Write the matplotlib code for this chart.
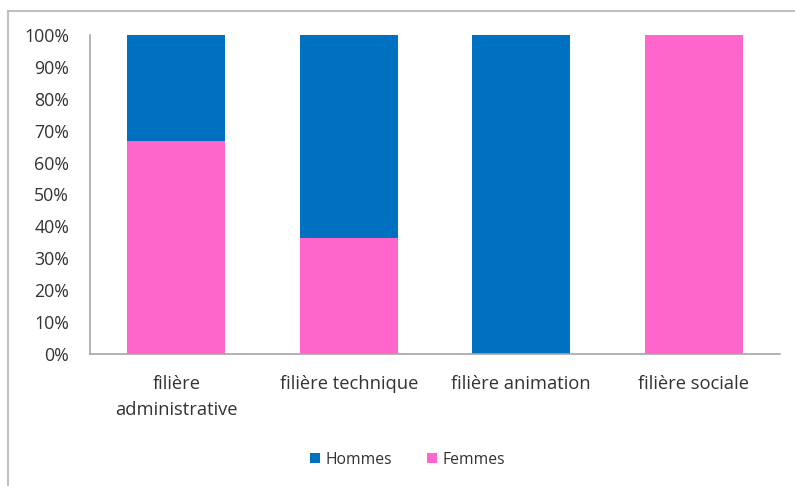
import matplotlib
matplotlib.use("Agg")
import matplotlib.pyplot as plt
from matplotlib.patches import Rectangle
from matplotlib.ticker import FuncFormatter, MultipleLocator

plt.rcParams["font.family"] = ["Open Sans", "DejaVu Sans"]

categories = ["filière\nadministrative", "filière technique", "filière animation", "filière sociale"]
femmes = [66.7, 36.4, 0.0, 100.0]
hommes = [33.3, 63.6, 100.0, 0.0]

blue = "#0070C0"
pink = "#FF66CC"
grey = "#A6A6A6"
text_color = "#333333"

fig = plt.figure(figsize=(7.95, 4.86), dpi=100)
ax = fig.add_axes([0.1132, 0.2716, 0.8679, 0.6564])

x = range(len(categories))
ax.bar(x, femmes, width=0.57, color=pink, label="Femmes")
ax.bar(x, hommes, width=0.57, bottom=femmes, color=blue, label="Hommes")

ax.set_xlim(-0.5, len(categories) - 0.5)
ax.set_ylim(0, 100)
ax.yaxis.set_major_locator(MultipleLocator(10))
ax.yaxis.set_major_formatter(FuncFormatter(lambda v, p: f"{v:.0f}%"))
ax.set_xticks(list(x))
ax.set_xticklabels(categories, fontsize=13.2, color=text_color, linespacing=1.55)
ax.tick_params(axis="y", length=0, pad=15, labelsize=12.8, labelcolor=text_color)
ax.tick_params(axis="x", length=0, pad=15)

for side in ("top", "right"):
    ax.spines[side].set_visible(False)
for side in ("left", "bottom"):
    ax.spines[side].set_color(grey)
    ax.spines[side].set_linewidth(1.2)

handles, labels = ax.get_legend_handles_labels()
leg = fig.legend(handles[::-1], labels[::-1], loc="center", bbox_to_anchor=(0.513, 0.054),
                 ncol=2, frameon=False, fontsize=11.3, handlelength=0.6, handleheight=0.6,
                 handletextpad=0.4, columnspacing=2.2, labelcolor=text_color)

# chart-area frame
fig.patches.append(Rectangle((0.0095, -0.1), 1.2, 1.0775, transform=fig.transFigure,
                             fill=False, edgecolor="#BFBFBF", linewidth=1.5))

fig.savefig("out.png", dpi=100)
